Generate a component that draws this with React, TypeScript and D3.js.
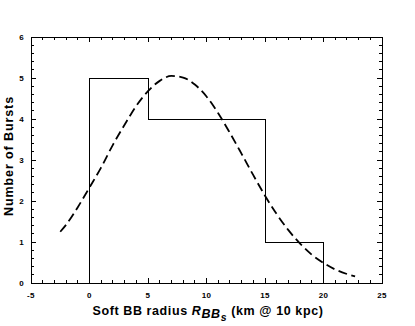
import React from "react";
import * as d3 from "d3";

// histogram bins: [from, to, count]
const binEdges = [0, 5, 15, 20];
const binCounts = [5, 4, 1];

// dashed fit curve
const curveX = [-2.5, -2, -1, 0, 1, 2, 3, 4, 5, 6, 7, 8, 9, 10, 11, 12, 13, 14, 15, 16, 17, 18, 19, 20, 21, 22, 22.7];
const curveY = [1.25, 1.42, 1.85, 2.33, 2.82, 3.37, 3.86, 4.32, 4.68, 4.93, 5.05, 5.01, 4.84, 4.55, 4.14, 3.66, 3.15, 2.63, 2.13, 1.68, 1.29, 0.96, 0.69, 0.49, 0.33, 0.22, 0.16];

const xTicks = [-5, 0, 5, 10, 15, 20, 25];
const yTicks = [0, 1, 2, 3, 4, 5, 6];

const W = 415;
const H = 326;
const m = { left: 31, right: 33, top: 37, bottom: 43 };

export default function App() {
  const x = d3.scaleLinear().domain([-5, 25]).range([m.left, W - m.right]);
  const y = d3.scaleLinear().domain([0, 6]).range([H - m.bottom, m.top]);

  const [x0, x1] = x.range();
  const [y0, y1] = y.range();

  const stepPts: [number, number][] = [[binEdges[0], 0]];
  binCounts.forEach((c, i) => {
    stepPts.push([binEdges[i], c]);
    stepPts.push([binEdges[i + 1], c]);
  });
  stepPts.push([binEdges[binEdges.length - 1], 0]);
  const stepLine = d3
    .line<[number, number]>()
    .x((d) => x(d[0]))
    .y((d) => y(d[1]));

  const curve = d3
    .line<number>()
    .x((d) => x(d))
    .y((_, i) => y(curveY[i]))
    .curve(d3.curveMonotoneX);

  const xMinor = d3.range(-5, 25.01, 1);
  const yMinor = d3.range(0, 6.001, 0.2);
  const font = "'Liberation Sans', Arial, sans-serif";

  return (
    <svg width={W} height={H} style={{ position: "absolute", left: 0, top: 0, background: "#fff" }}>
      <g stroke="#000" strokeWidth={1} shapeRendering="crispEdges">
        {xMinor.map((t) => {
          const major = Math.abs(t % 5) < 1e-6;
          const len = major ? 5 : 3;
          return (
            <g key={"x" + t}>
              <line x1={x(t)} x2={x(t)} y1={y0} y2={y0 - len} />
              <line x1={x(t)} x2={x(t)} y1={y1} y2={y1 + len} />
            </g>
          );
        })}
        {yMinor.map((t, i) => {
          const major = i % 5 === 0;
          const len = major ? 5 : 3;
          return (
            <g key={"y" + i}>
              <line x1={x0} x2={x0 + len} y1={y(t)} y2={y(t)} />
              <line x1={x1} x2={x1 - len} y1={y(t)} y2={y(t)} />
            </g>
          );
        })}
        <rect x={x0} y={y1} width={x1 - x0} height={y0 - y1} fill="none" />
        <path d={stepLine(stepPts) || ""} fill="none" />
      </g>
      <path
        d={curve(curveX) || ""}
        fill="none"
        stroke="#000"
        strokeWidth={1.8}
        strokeDasharray="9,4.5"
      />
      <g fontFamily={font} fontWeight="bold" fontSize={8} fill="#000" letterSpacing={0.4}>
        {xTicks.map((t) => (
          <text key={t} x={x(t)} y={y0 + 14.5} textAnchor="middle">
            {t}
          </text>
        ))}
        {yTicks.map((t) => (
          <text key={t} x={x0 - 7} y={y(t) + 3} textAnchor="end">
            {t}
          </text>
        ))}
      </g>
      <text
        fontFamily={font}
        fontWeight="bold"
        fontSize={12.5}
        letterSpacing={0.9}
        textAnchor="middle"
        transform={`translate(13,156) rotate(-90)`}
      >
        Number of Bursts
      </text>
      <text
        fontFamily={font}
        fontWeight="bold"
        fontSize={12.5}
        letterSpacing={0.6}
        x={208}
        y={315}
        textAnchor="middle"
      >
        Soft BB radius <tspan fontStyle="italic">R</tspan>
        <tspan fontStyle="italic" dy={3}>BB</tspan>
        <tspan fontStyle="italic" fontSize={10.5} dy={3}>s</tspan>
        <tspan dy={-6}> (km @ 10 kpc)</tspan>
      </text>
    </svg>
  );
}
